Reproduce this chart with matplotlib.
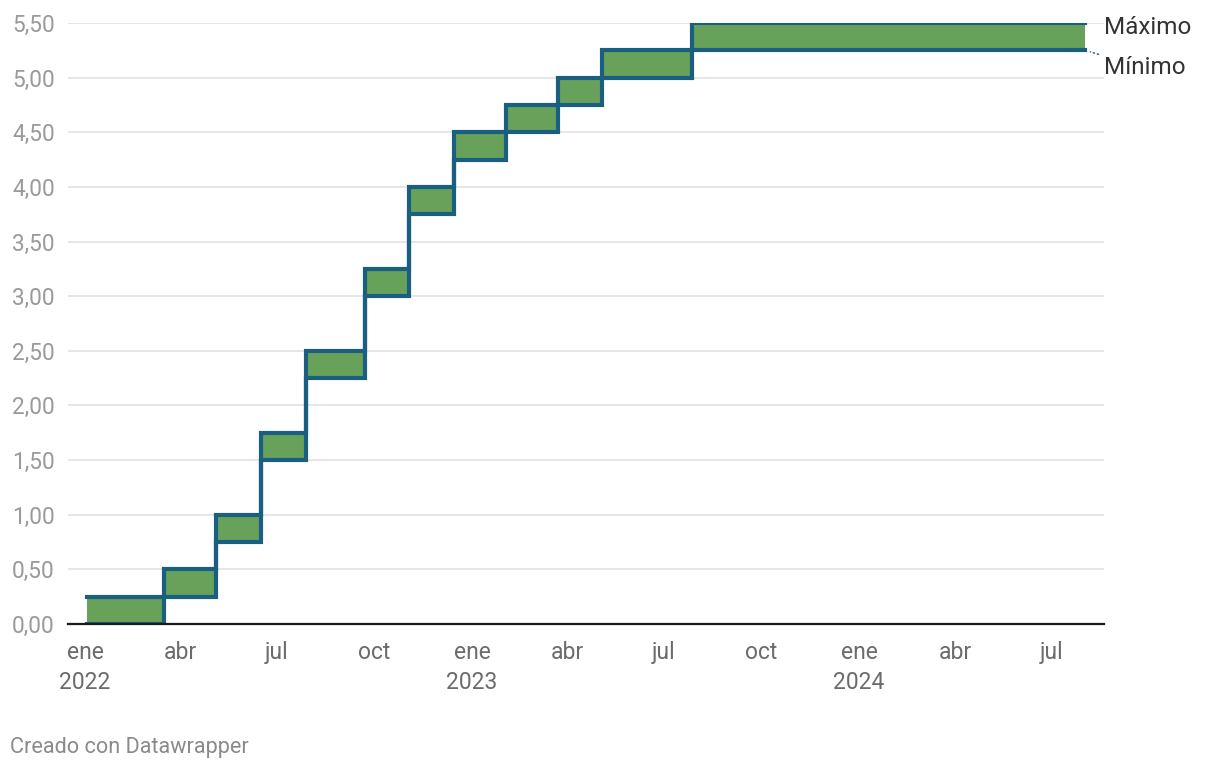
import pandas as pd
import matplotlib.pyplot as plt
import matplotlib.dates as mdates
import numpy as np

plt.rcParams['font.family'] = ['Roboto', 'DejaVu Sans']

# rango objetivo (límite superior / inferior), en %
dates = ["2022-01-03", "2022-03-17", "2022-05-05", "2022-06-16", "2022-07-28",
         "2022-09-22", "2022-11-03", "2022-12-15", "2023-02-02", "2023-03-23",
         "2023-05-04", "2023-07-27", "2024-08-01"]
maximo = [0.25, 0.50, 1.00, 1.75, 2.50, 3.25, 4.00, 4.50, 4.75, 5.00, 5.25, 5.50, 5.50]
minimo = [0.00, 0.25, 0.75, 1.50, 2.25, 3.00, 3.75, 4.25, 4.50, 4.75, 5.00, 5.25, 5.25]

yticks = [0, 0.5, 1, 1.5, 2, 2.5, 3, 3.5, 4, 4.5, 5, 5.5]
xtick_dates = ["2022-01-01", "2022-04-01", "2022-07-01", "2022-10-01",
               "2023-01-01", "2023-04-01", "2023-07-01", "2023-10-01",
               "2024-01-01", "2024-04-01", "2024-07-01"]
xtick_labels = ["ene\n2022", "abr", "jul", "oct", "ene\n2023", "abr", "jul",
                "oct", "ene\n2024", "abr", "jul"]

df = pd.DataFrame({'date': pd.to_datetime(dates), 'max': maximo, 'min': minimo})

line_col = '#1a5f80'
fill_col = '#68a15a'

fig = plt.figure(figsize=(12.2, 7.7), dpi=100)
ax = fig.add_axes([68 / 1220, 146 / 770, (1104 - 68) / 1220, (624 - 23) / 770])

ax.fill_between(df['date'], df['min'], df['max'], step='post',
                color=fill_col, linewidth=0, zorder=2)
ax.plot(df['date'], df['max'], drawstyle='steps-post', color=line_col,
        lw=3.0, zorder=3, solid_joinstyle='miter')
ax.plot(df['date'], df['min'], drawstyle='steps-post', color=line_col,
        lw=3.0, zorder=3, solid_joinstyle='miter')

ax.set_xlim(pd.Timestamp("2021-12-16"), pd.Timestamp("2024-08-19"))
ax.set_ylim(0, 5.5)

ax.set_yticks(yticks)
ax.set_yticklabels([f"{v:.2f}".replace('.', ',') for v in yticks])
ax.set_xticks(pd.to_datetime(xtick_dates))
ax.set_xticklabels(xtick_labels, linespacing=1.4)

ax.tick_params(axis='y', length=0, pad=9.5, labelsize=16.3, labelcolor='#9a9a9a')
ax.tick_params(axis='x', length=0, pad=12, labelsize=16.5, labelcolor='#6b6b6b')

for s in ax.spines.values():
    s.set_visible(False)
ax.grid(axis='y', color='#e2e2e2', lw=1.2, zorder=0)
ax.set_axisbelow(True)
ax.axhline(0, color='#1a1a1a', lw=1.6, zorder=4, clip_on=False)

# etiquetas de las series
last = df['date'].iloc[-1]
ax.text(1.0, df['max'].iloc[-1] - 0.045, "Máximo", transform=ax.get_yaxis_transform(),
        ha='left', va='center', fontsize=17.5, color='#333333')
ax.annotate("Mínimo", xy=(last, df['min'].iloc[-1]), xycoords='data',
            xytext=(1.0, df['min'].iloc[-1] - 0.16),
            textcoords=ax.get_yaxis_transform(), ha='left', va='center',
            fontsize=17.5, color='#333333',
            arrowprops=dict(arrowstyle='-', color=line_col, lw=1, ls=(0, (1, 2)),
                            shrinkA=2, shrinkB=4))

fig.text(10 / 1220, 1 - 748 / 770, "Creado con Datawrapper", ha='left', va='center',
         fontsize=15.6, color='#8a8a8a')

fig.savefig('out.png', dpi=100)
